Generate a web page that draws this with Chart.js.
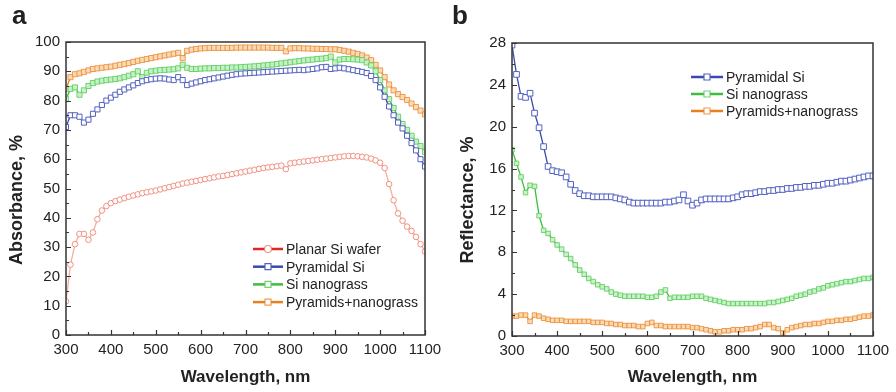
<!doctype html>
<html lang="en">
<head>
<meta charset="utf-8">
<title>Absorbance and reflectance spectra</title>
<style>
  body {margin: 0; background: #fff;}
  .panel {position: absolute; top: 0; width: 448px; height: 392px;}
  #wrapA {left: 0;}
  #wrapB {left: 448px;}
</style>
<script src="https://cdn.jsdelivr.net/npm/chart.js@4.4.1/dist/chart.umd.min.js"></script>
</head>
<body>
<div class="panel" id="wrapA"><canvas id="chartA" width="448" height="392"></canvas></div>
<div class="panel" id="wrapB"><canvas id="chartB" width="448" height="392"></canvas></div>
<script>
// wavelength grid, nm
var wavelengths = [300,310,320,330,340,350,360,370,380,390,
  400,410,420,430,440,450,460,470,480,490,
  500,510,520,530,540,550,560,570,580,590,
  600,610,620,630,640,650,660,670,680,690,
  700,710,720,730,740,750,760,770,780,790,
  800,810,820,830,840,850,860,870,880,890,
  900,910,920,930,940,950,960,970,980,990,
  1000,1010,1020,1030,1040,1050,1060,1070,1080,1090,1100];

// panel a - absorbance, %
var planarSi = [11.5,24,31,34.5,34.5,32.5,35,39.5,42.5,44,
  45,45.7,46.2,46.7,47.2,47.6,48,48.4,48.7,49,
  49.3,49.7,50.1,50.5,50.9,51.3,51.7,52,52.3,52.6,
  52.9,53.2,53.5,53.8,54.1,54.3,54.6,54.9,55.2,55.5,
  55.8,56.1,56.4,56.7,57,57.2,57.4,57.6,57.8,56.6,
  58.6,58.8,59,59.2,59.4,59.6,59.8,60,60.2,60.4,
  60.6,60.8,61,61.1,61.1,61,60.8,60.6,60.2,59.6,
  58.8,57,51.5,46,41.5,39,37,35.5,33.5,31,28.5];
var pyramidalA = [71,75,75,74.5,72.5,73.5,75.5,77,78.5,80,
  81,82,83,83.8,84.5,85.2,86,86.6,87,87.3,
  87.5,87.6,87.5,87.2,87,88,87,85.3,85.8,86.2,
  86.6,87,87.3,87.6,87.9,88.2,88.5,88.8,89,89.2,
  89.3,89.4,89.5,89.6,89.7,89.8,89.9,90,90.1,90.2,
  90.3,90.4,90.5,90.4,90.6,90.8,91,91.4,91.5,90.8,
  91,91.2,91,90.7,90.4,90.1,89.8,89.4,88.4,87,
  84.5,81.3,78,75,72.5,70.5,68,65.5,63,60,57.5];
var nanograssA = [80.5,84,84.5,82,83.5,85,86,86.5,86.8,87,
  87.2,87.4,87.6,88,88.5,89,90,88,89.5,90,
  90.2,90.4,90.5,90.6,90.7,91,92.2,91.2,90.8,90.8,
  90.9,91,91,91.1,91.1,91.2,91.2,91.3,91.3,91.4,
  91.5,91.6,91.7,91.8,92,92.1,92.3,92.5,92.7,92.9,
  93.1,93.3,93.5,93.7,93.9,94,94.2,94.3,94.5,95,
  93,94,94.2,94.2,94.1,94,93.8,93,92,90,
  87,83.5,80.5,77.5,74.5,72,70,68,66,64.5,62.5];
var pyrNanoA = [84,88,89,89.3,89.8,90.3,90.8,91,91.2,91.4,
  91.6,91.9,92.2,92.5,92.8,93.2,93.6,93.9,94.2,94.5,
  94.8,95.1,95.4,95.7,96,96.3,94.5,97,97.4,97.6,
  97.8,97.9,98,98,98,98,98,98,98.1,98.1,
  98.1,98.1,98.1,98.1,98.1,98.1,98,98,98,96.8,
  97.8,97.9,97.9,97.8,97.8,97.7,97.7,97.6,97.6,97.5,
  97.5,97.3,97,96.7,96.3,95.9,95.4,94.7,93.8,92.2,
  90.3,88,85.5,83.5,82.2,81.2,80.2,79,77.8,76.6,75.3];

// panel b - reflectance, %
var pyramidalB = [27.8,25,22.9,22.8,23.2,21.3,19.9,18.1,16.2,15.8,
  15.7,15.6,15.2,14.5,13.9,13.6,13.4,13.4,13.3,13.3,
  13.3,13.3,13.3,13.2,13.1,13,12.8,12.7,12.7,12.7,
  12.7,12.7,12.7,12.7,12.8,12.8,12.9,13,13.5,12.9,
  12.5,12.7,13,13.1,13.1,13.1,13.1,13.1,13.1,13.2,
  13.3,13.5,13.6,13.6,13.7,13.8,13.8,13.9,13.9,14,
  14,14.1,14.1,14.2,14.2,14.3,14.3,14.4,14.4,14.5,
  14.6,14.6,14.7,14.8,14.8,14.9,15,15.1,15.2,15.3,15.3];
var nanograssB = [17.8,16.5,15.2,13.7,14.4,14.3,11.5,10.1,9.8,9.2,
  8.7,8.3,7.8,7.4,6.8,6.3,5.9,5.5,5.2,4.9,
  4.7,4.5,4.2,4,3.9,3.8,3.8,3.8,3.8,3.8,
  3.7,3.7,3.8,4.2,4.4,3.6,3.7,3.7,3.7,3.7,
  3.8,3.8,3.8,3.6,3.5,3.4,3.3,3.2,3.1,3.1,
  3.1,3.1,3.1,3.1,3.1,3.1,3.1,3.2,3.2,3.3,
  3.4,3.5,3.6,3.8,3.9,4,4.2,4.3,4.5,4.6,
  4.8,4.9,5,5.1,5.2,5.2,5.3,5.4,5.5,5.5,5.6];
var pyrNanoB = [1.9,1.9,2,2,1.4,2,1.9,1.7,1.6,1.5,
  1.5,1.5,1.4,1.4,1.4,1.4,1.4,1.4,1.3,1.3,
  1.3,1.2,1.2,1.1,1.1,1,1,1,0.9,0.9,
  1.2,1.3,1,1,0.9,0.9,0.9,0.9,0.9,0.9,
  0.8,0.8,0.7,0.6,0.5,0.4,0.4,0.5,0.5,0.6,
  0.6,0.6,0.7,0.7,0.8,0.9,1.1,1.1,0.8,0.7,
  0.3,0.6,0.8,0.9,1,1.1,1.1,1.2,1.2,1.3,
  1.4,1.4,1.5,1.5,1.6,1.6,1.7,1.8,1.9,1.9,2];

var xTicks = {min: 300, max: 1100, step: 100};
var yTicksA = {min: 0, max: 100, step: 10};
var yTicksB = {min: 0, max: 28, step: 4};

var FONT = "'Liberation Sans', Arial, sans-serif";

function pts(arr) {
  return wavelengths.map(function (w, i) { return {x: w, y: arr[i]}; });
}

function series(label, arr, lineColor, markColor, fill, style, r, legendColor) {
  return {
    label: label, data: pts(arr),
    borderColor: lineColor, borderWidth: 1.3,
    pointStyle: style, pointRadius: r, pointBorderWidth: 1,
    pointBorderColor: markColor, pointBackgroundColor: fill,
    legendColor: legendColor || lineColor
  };
}

// frame, inward ticks, legend, panel letter and y title
var deco = {
  id: 'deco',
  afterDatasetsDraw: function (chart, args, opt) {
    var ctx = chart.ctx, a = chart.chartArea;
    var sx = chart.scales.x, sy = chart.scales.y;
    ctx.save();
    ctx.strokeStyle = '#333';
    ctx.lineWidth = 1.5;
    ctx.strokeRect(a.left, a.top, a.right - a.left, a.bottom - a.top);
    ctx.lineWidth = 1.2;
    ctx.beginPath();
    var v, p, len;
    for (v = sx.min; v <= sx.max; v += opt.minorX) {
      p = Math.round(sx.getPixelForValue(v)) + 0.5;
      len = (v - sx.min) % (2 * opt.minorX) === 0 ? 5 : 3;
      ctx.moveTo(p, a.bottom); ctx.lineTo(p, a.bottom - len);
    }
    for (v = sy.min; v <= sy.max; v += opt.minorY) {
      p = Math.round(sy.getPixelForValue(v)) + 0.5;
      len = (v - sy.min) % (2 * opt.minorY) === 0 ? 5 : 3;
      ctx.moveTo(a.left, p); ctx.lineTo(a.left + len, p);
    }
    ctx.stroke();

    // legend
    ctx.font = '14px ' + FONT;
    ctx.textBaseline = 'middle';
    ctx.fillStyle = '#222';
    chart.data.datasets.forEach(function (ds, i) {
      var y = opt.legendY + i * opt.legendDy, x = opt.legendX;
      ctx.strokeStyle = ds.legendColor;
      ctx.lineWidth = 2.5;
      ctx.beginPath(); ctx.moveTo(x, y); ctx.lineTo(x + opt.legendW, y); ctx.stroke();
      var cx = x + opt.legendW / 2;
      ctx.lineWidth = 1.2;
      ctx.fillStyle = '#fff';
      ctx.strokeStyle = ds.pointBorderColor;
      ctx.beginPath();
      if (ds.pointStyle === 'circle') ctx.arc(cx, y, 3.5, 0, Math.PI * 2);
      else ctx.rect(cx - 3, y - 3, 6, 6);
      ctx.fill(); ctx.stroke();
      ctx.fillStyle = '#222';
      ctx.fillText(ds.label, x + opt.legendW + 3, y + 1);
    });

    // panel letter
    ctx.font = 'bold 26px ' + FONT;
    ctx.textBaseline = 'alphabetic';
    ctx.fillText(opt.letter, opt.letterX, 24);

    // y axis title
    ctx.font = 'bold 18px ' + FONT;
    ctx.textAlign = 'center';
    ctx.textBaseline = 'middle';
    ctx.translate(opt.titleX, 200);
    ctx.rotate(-Math.PI / 2);
    ctx.fillText(opt.yTitle, 0, 0);
    ctx.restore();
  }
};

function plain(v) { return String(v); }

function makeChart(id, datasets, yt, yWidth, xHeight, top, decoOpts) {
  return new Chart(document.getElementById(id), {
    type: 'line',
    data: {datasets: datasets},
    plugins: [deco],
    options: {
      responsive: false, animation: false, devicePixelRatio: 1,
      layout: {padding: {left: 0, right: 23, top: top, bottom: 0}},
      plugins: {legend: {display: false}, tooltip: {enabled: false}, deco: decoOpts},
      scales: {
        x: {
          type: 'linear', min: xTicks.min, max: xTicks.max,
          grid: {display: false, drawTicks: false}, border: {display: false},
          ticks: {stepSize: xTicks.step, padding: 6, color: '#222', callback: plain,
                  font: {family: FONT, size: 15}},
          title: {display: true, text: 'Wavelength, nm', color: '#222',
                  font: {family: FONT, size: 17, weight: 'bold'}, padding: {top: 0, bottom: 4}},
          afterFit: function (s) { s.height = xHeight; }
        },
        y: {
          min: yt.min, max: yt.max,
          grid: {display: false, drawTicks: false}, border: {display: false},
          ticks: {stepSize: yt.step, padding: 6, color: '#222', callback: plain,
                  font: {family: FONT, size: 15}},
          afterFit: function (s) { s.width = yWidth; }
        }
      }
    }
  });
}

makeChart('chartA', [
  series('Planar Si wafer', planarSi, 'rgba(240,140,120,0.7)', 'rgba(240,120,100,0.8)', '#fff', 'circle', 2.8, '#e0261e'),
  series('Pyramidal Si', pyramidalA, '#3a49b0', '#5361c0', '#fff', 'rect', 3.6, '#3a49b0'),
  series('Si nanograss', nanograssA, '#3cbf3c', 'rgba(90,205,90,0.85)', 'rgba(200,242,200,0.95)', 'rect', 3.6, '#3cbf3c'),
  series('Pyramids+nanograss', pyrNanoA, '#e8801e', 'rgba(236,140,50,0.85)', 'rgba(250,220,185,0.95)', 'rect', 3.6, '#e8801e')
], yTicksA, 66, 57, 42, {
  letter: 'a', letterX: 12, yTitle: 'Absorbance, %', titleX: 17,
  legendX: 253, legendY: 249, legendDy: 17.7, legendW: 30, minorX: 50, minorY: 5
});

makeChart('chartB', [
  series('Pyramidal Si', pyramidalB, '#3a49b0', '#5361c4', '#fff', 'rect', 4, '#3a49b0'),
  series('Si nanograss', nanograssB, '#3cbf3c', 'rgba(90,205,90,0.85)', 'rgba(205,242,205,0.95)', 'rect', 3.2, '#3cbf3c'),
  series('Pyramids+nanograss', pyrNanoB, '#e8801e', 'rgba(236,140,50,0.85)', 'rgba(250,220,185,0.95)', 'rect', 3.2, '#e8801e')
], yTicksB, 64, 56, 43, {
  letter: 'b', letterX: 4, yTitle: 'Reflectance, %', titleX: 20,
  legendX: 243, legendY: 77, legendDy: 17, legendW: 32, minorX: 50, minorY: 2
});
</script>
</body>
</html>
